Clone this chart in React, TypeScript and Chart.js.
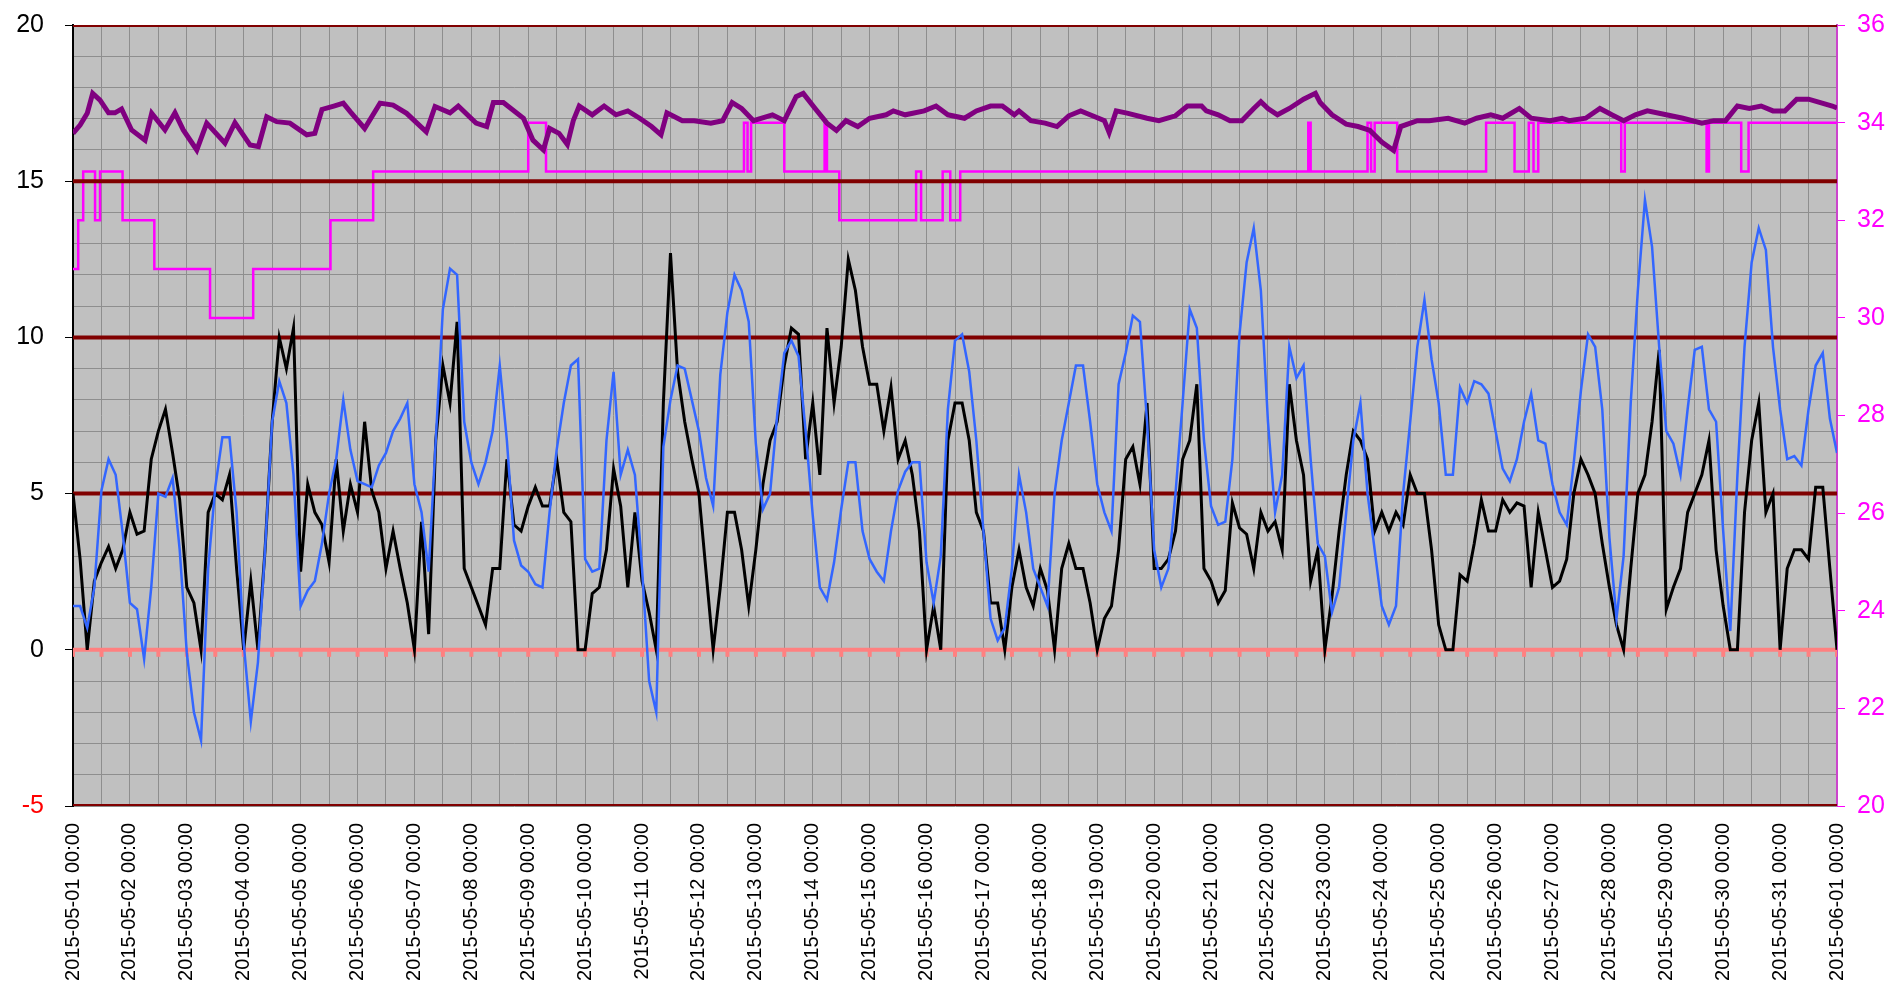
import React, { useEffect, useRef } from 'react';
import { Chart, registerables } from 'chart.js';

Chart.register(...registerables);

// ---------- data ----------
const SAMPLE_STEP_HOURS = 3;
const TOTAL_HOURS = 744;

const dayLabels = [
  '2015-05-01 00:00', '2015-05-02 00:00', '2015-05-03 00:00', '2015-05-04 00:00',
  '2015-05-05 00:00', '2015-05-06 00:00', '2015-05-07 00:00', '2015-05-08 00:00',
  '2015-05-09 00:00', '2015-05-10 00:00', '2015-05-11 00:00', '2015-05-12 00:00',
  '2015-05-13 00:00', '2015-05-14 00:00', '2015-05-15 00:00', '2015-05-16 00:00',
  '2015-05-17 00:00', '2015-05-18 00:00', '2015-05-19 00:00', '2015-05-20 00:00',
  '2015-05-21 00:00', '2015-05-22 00:00', '2015-05-23 00:00', '2015-05-24 00:00',
  '2015-05-25 00:00', '2015-05-26 00:00', '2015-05-27 00:00', '2015-05-28 00:00',
  '2015-05-29 00:00', '2015-05-30 00:00', '2015-05-31 00:00', '2015-06-01 00:00',
];

// black series, one value every 3 hours from 2015-05-01 00:00
const blackValues = [
  5.0, 2.9, 0, 2.2, 2.8, 3.3, 2.6, 3.2, 4.4, 3.7, 3.8, 6.1, 7.0, 7.7, 6.3, 4.8,
  2.0, 1.5, 0, 4.4, 5.0, 4.8, 5.6, 2.6, 0, 2.2, 0, 3.2, 7.3, 10.0, 9.0, 10.3,
  2.5, 5.3, 4.4, 4.0, 2.8, 6.1, 3.8, 5.3, 4.4, 7.3, 5.1, 4.4, 2.6, 3.8, 2.6, 1.5,
  0, 4.1, 0.5, 6.7, 9.1, 7.9, 10.5, 2.6, 2.0, 1.4, 0.8, 2.6, 2.6, 6.1, 4.0, 3.8,
  4.6, 5.2, 4.6, 4.6, 6.1, 4.4, 4.1, 0, 0, 1.8, 2.0, 3.2, 5.8, 4.6, 2.0, 4.4,
  2.2, 1.2, 0, 7.9, 12.7, 8.9, 7.3, 6.1, 5.0, 2.5, 0, 2.0, 4.4, 4.4, 3.2, 1.4,
  3.2, 5.3, 6.7, 7.3, 9.1, 10.3, 10.1, 6.1, 7.9, 5.6, 10.3, 7.9, 9.7, 12.5, 11.5, 9.7,
  8.5, 8.5, 7.0, 8.4, 6.1, 6.7, 5.6, 3.8, 0, 1.4, 0, 6.7, 7.9, 7.9, 6.7, 4.4,
  3.8, 1.5, 1.5, 0, 2.0, 3.2, 2.0, 1.4, 2.6, 1.9, 0, 2.6, 3.4, 2.6, 2.6, 1.5,
  0, 1.0, 1.4, 3.2, 6.1, 6.5, 5.3, 7.9, 2.6, 2.6, 2.9, 3.8, 6.1, 6.7, 8.5, 2.6,
  2.2, 1.5, 1.9, 4.7, 3.9, 3.7, 2.6, 4.4, 3.8, 4.1, 3.2, 8.5, 6.7, 5.6, 2.2, 3.2,
  0, 1.7, 3.8, 5.6, 7.0, 6.7, 6.1, 3.8, 4.4, 3.8, 4.4, 4.0, 5.6, 5.0, 5.0, 3.2,
  0.8, 0, 0, 2.4, 2.2, 3.4, 4.8, 3.8, 3.8, 4.8, 4.4, 4.7, 4.6, 2.0, 4.4, 3.2,
  2.0, 2.2, 2.9, 5.0, 6.1, 5.6, 5.0, 3.4, 2.0, 0.8, 0, 2.6, 5.0, 5.6, 7.3, 9.6,
  1.3, 2.0, 2.6, 4.4, 5.0, 5.6, 6.7, 3.2, 1.4, 0, 0, 4.4, 6.7, 7.9, 4.4, 5.0,
  0, 2.6, 3.2, 3.2, 2.9, 5.2, 5.2, 2.6, 0,
];

// blue series, one value every 3 hours from 2015-05-01 00:00
const blueValues = [
  1.4, 1.4, 0.7, 2.0, 5.1, 6.1, 5.6, 3.7, 1.5, 1.3, -0.3, 2.0, 5.0, 4.9, 5.5, 3.2,
  -0.1, -2.0, -2.9, 2.6, 5.2, 6.8, 6.8, 4.4, 0.2, -2.3, -0.4, 3.2, 7.3, 8.6, 7.9, 5.6,
  1.4, 1.9, 2.2, 3.4, 5.0, 6.1, 8.0, 6.4, 5.4, 5.3, 5.2, 5.9, 6.3, 7.0, 7.4, 7.9,
  5.3, 4.4, 2.5, 6.7, 10.9, 12.2, 12.0, 7.3, 6.0, 5.3, 6.0, 7.0, 9.1, 6.7, 3.5, 2.7,
  2.5, 2.1, 2.0, 4.4, 6.4, 7.9, 9.1, 9.3, 2.9, 2.5, 2.6, 6.7, 8.9, 5.6, 6.4, 5.6,
  2.6, -1.0, -2.0, 6.5, 8.0, 9.1, 9.0, 8.0, 7.0, 5.5, 4.6, 8.8, 10.8, 12.0, 11.5, 10.5,
  6.6, 4.5, 5.0, 7.5, 9.5, 9.9, 9.4, 7.0, 4.3, 2.0, 1.6, 2.8, 4.5, 6.0, 6.0, 3.8,
  2.9, 2.5, 2.2, 3.8, 5.1, 5.7, 6.0, 6.0, 2.8, 1.5, 3.0, 7.7, 9.9, 10.1, 8.9, 6.7,
  3.8, 1.0, 0.3, 0.7, 2.6, 5.6, 4.4, 2.6, 2.0, 1.4, 5.0, 6.7, 7.9, 9.1, 9.1, 7.3,
  5.3, 4.4, 3.8, 8.5, 9.5, 10.7, 10.5, 7.3, 3.2, 2.0, 2.6, 5.0, 7.9, 10.9, 10.3, 6.7,
  4.6, 4.0, 4.1, 6.1, 10.1, 12.4, 13.5, 11.5, 7.3, 4.4, 5.6, 9.7, 8.7, 9.1, 6.1, 3.4,
  3.0, 1.2, 2.0, 4.4, 6.7, 7.9, 5.0, 3.2, 1.4, 0.8, 1.4, 5.0, 7.3, 9.7, 11.2, 9.3,
  7.9, 5.6, 5.6, 8.4, 7.9, 8.6, 8.5, 8.2, 7.0, 5.8, 5.4, 6.1, 7.3, 8.2, 6.7, 6.6,
  5.3, 4.4, 4.0, 6.0, 8.3, 10.1, 9.7, 7.7, 3.6, 1.0, 3.0, 7.9, 11.5, 14.4, 12.9, 9.7,
  7.0, 6.6, 5.6, 7.7, 9.6, 9.7, 7.7, 7.3, 3.8, 0.6, 5.6, 9.7, 12.4, 13.5, 12.8, 9.7,
  7.7, 6.1, 6.2, 5.9, 7.7, 9.1, 9.5, 7.4, 6.3,
];

// purple series (right axis)
const purpleHours = [
  0, 3, 6, 8.3, 11.4, 15, 17.7, 20.5, 24.7, 30.4, 33.2, 38.8, 43, 46.5, 52.2, 56.4,
  64.1, 68.3, 74.7, 78.2, 81.7, 85.9, 91.5, 98.6, 102, 105, 110, 114, 117, 123, 129.5, 135,
  140.7, 149, 152.7, 159, 162.5, 170, 174.5, 177.3, 181.5, 190, 194, 198.4, 201, 205,
  208.5, 211, 213.5, 219, 224, 229, 234, 239, 244, 248, 250.5, 257, 262, 269, 274, 278,
  282, 287, 295, 300, 305, 308, 313, 318, 322, 326, 331, 336, 343, 346, 351, 359,
  364, 369, 376, 381, 387, 392, 397, 399, 404, 410, 415, 420, 425, 430, 435, 437,
  440, 445, 453, 458, 465, 470, 476, 478, 483, 488, 493, 498, 501, 504, 508, 513,
  519, 524, 526, 531, 537, 542, 547, 552, 557, 560, 567, 572, 580, 587, 592, 598,
  603, 610, 615, 623, 628, 631, 638, 644, 649, 654, 659, 664, 672, 679, 687, 692,
  697, 702, 707, 712, 717, 722, 727, 732, 737, 742, 744,
];
const purpleValues = [
  33.78, 33.95, 34.19, 34.6, 34.46, 34.2, 34.2, 34.28, 33.85, 33.64, 34.19, 33.85, 34.2, 33.85, 33.44, 33.99,
  33.58, 34.0, 33.54, 33.51, 34.12, 34.02, 33.99, 33.75, 33.78, 34.27, 34.34, 34.4, 34.22, 33.88, 34.4, 34.36,
  34.19, 33.81, 34.33, 34.2, 34.34, 33.99, 33.92, 34.41, 34.41, 34.09, 33.64, 33.44, 33.88, 33.78,
  33.55, 34.04, 34.34, 34.16, 34.34, 34.16, 34.24, 34.09, 33.92, 33.75, 34.2, 34.04, 34.04, 33.99, 34.04, 34.41,
  34.29, 34.04, 34.16, 34.04, 34.53, 34.6, 34.29, 33.99, 33.84, 34.04, 33.92, 34.09, 34.16, 34.24, 34.16, 34.24,
  34.34, 34.16, 34.09, 34.24, 34.34, 34.34, 34.16, 34.24, 34.04, 33.99, 33.92, 34.14, 34.24, 34.14, 34.04, 33.8,
  34.24, 34.19, 34.09, 34.04, 34.14, 34.34, 34.34, 34.24, 34.16, 34.04, 34.04, 34.29, 34.43, 34.29, 34.16, 34.29,
  34.48, 34.6, 34.41, 34.16, 33.97, 33.92, 33.84, 33.6, 33.43, 33.92, 34.04, 34.04, 34.09, 33.99, 34.09, 34.16,
  34.09, 34.29, 34.09, 34.04, 34.09, 34.04, 34.09, 34.29, 34.16, 34.04, 34.16, 34.24, 34.16, 34.09, 33.99, 34.04,
  34.04, 34.34, 34.29, 34.34, 34.24, 34.24, 34.48, 34.48, 34.41, 34.34, 34.3,
];

// magenta step series (right axis): level starting at each hour
const magentaHours = [
  0, 2.2, 4.3, 9.3, 11.4, 20.9, 34.3, 57.8, 76, 108.6, 126.6, 192, 199.5, 283, 284.5, 286,
  300, 317, 318, 323.2, 355.6, 357.7, 366.8, 370, 374.2, 376, 521, 522, 546, 547.5, 549, 558.5,
  596, 608, 614, 616, 618, 653, 654.5, 689, 690, 703.6, 706.7, 744,
];
const magentaValues = [
  31, 32, 33, 32, 33, 32, 31, 30, 31, 32, 33, 34, 33, 34, 33, 34,
  33, 34, 33, 32, 33, 32, 33, 32, 33, 33, 34, 33, 34, 33, 34, 33,
  34, 33, 34, 33, 34, 33, 34, 33, 34, 33, 34, 34,
];

const limitLevels = [-5, 5, 10, 15, 20];
const zeroMarkerHours = Array.from({ length: TOTAL_HOURS / 12 + 1 }, (_, i) => i * 12);

const FONT = '"Liberation Sans", Arial, sans-serif';

export default function App() {
  const canvasRef = useRef<HTMLCanvasElement | null>(null);

  useEffect(() => {
    const canvas = canvasRef.current;
    if (!canvas) return;

    const marker = document.createElement('canvas');
    marker.width = 6;
    marker.height = 16;
    const mctx = marker.getContext('2d');
    if (mctx) {
      mctx.fillStyle = '#FF8080';
      mctx.fillRect(1, 8, 4, 7);
    }

    const toXY = (vals: number[]) => vals.map((v, i) => ({ x: i * SAMPLE_STEP_HOURS, y: v }));

    const limitDatasets = limitLevels.map((lv) => ({
      label: 'limit ' + lv,
      data: [{ x: 0, y: lv }, { x: TOTAL_HOURS, y: lv }],
      borderColor: '#800000',
      borderWidth: 4,
      pointRadius: 0,
      yAxisID: 'y',
      clip: 0,
    }));

    const bgPlugin = {
      id: 'plotBg',
      beforeDraw(chart: any) {
        const { ctx, chartArea: a } = chart;
        ctx.save();
        ctx.fillStyle = '#C0C0C0';
        ctx.fillRect(a.left, a.top, a.right - a.left, a.bottom - a.top);
        ctx.restore();
      },
    };

    const fitVertical = (w: number) => (s: any) => {
      s.width = w;
      s.paddingTop = 0;
      s.paddingBottom = 0;
    };

    const chart = new Chart(canvas, {
      type: 'line',
      data: {
        datasets: [
          {
            label: 'blue',
            data: toXY(blueValues),
            borderColor: '#3366FF',
            borderWidth: 2.5,
            pointRadius: 0,
            yAxisID: 'y',
          },
          {
            label: 'black',
            data: toXY(blackValues),
            borderColor: '#000000',
            borderWidth: 3,
            pointRadius: 0,
            yAxisID: 'y',
          },
          {
            label: 'zero',
            data: zeroMarkerHours.map((h) => ({ x: h, y: 0 })),
            borderColor: '#FF8080',
            borderWidth: 4,
            pointRadius: 3,
            pointStyle: marker as any,
            yAxisID: 'y',
          },
          ...limitDatasets,
          {
            label: 'purple',
            data: purpleHours.map((h, i) => ({ x: h, y: purpleValues[i] })),
            borderColor: '#800080',
            borderWidth: 5,
            pointRadius: 0,
            yAxisID: 'y2',
          },
          {
            label: 'magenta',
            data: magentaHours.map((h, i) => ({ x: h, y: magentaValues[i] })),
            borderColor: '#FF00FF',
            borderWidth: 2.5,
            pointRadius: 0,
            stepped: 'before',
            yAxisID: 'y2',
          },
        ] as any,
      },
      options: {
        animation: false,
        responsive: false,
        maintainAspectRatio: false,
        layout: { padding: { top: 25, left: 0, right: 0, bottom: 0 } },
        plugins: {
          legend: { display: false },
          tooltip: { enabled: false },
        },
        elements: { line: { tension: 0 } },
        scales: {
          x: {
            type: 'linear',
            min: 0,
            max: TOTAL_HOURS,
            afterFit: (s: any) => {
              s.height = 183;
              s.paddingLeft = 0;
              s.paddingRight = 0;
            },
            ticks: {
              stepSize: 12,
              autoSkip: false,
              maxRotation: 90,
              minRotation: 90,
              padding: 17,
              color: '#000000',
              font: { family: FONT, size: 20 },
              callback: (v: any) => (Number(v) % 24 === 0 ? dayLabels[Number(v) / 24] : ''),
            },
            grid: { color: '#8E8E8E', lineWidth: 1, drawTicks: false },
            border: { display: false },
          },
          y: {
            type: 'linear',
            position: 'left',
            min: -5,
            max: 20,
            afterFit: fitVertical(73),
            ticks: {
              stepSize: 1,
              autoSkip: false,
              padding: 21,
              font: { family: FONT, size: 25 },
              color: (c: any) => (c.tick && c.tick.value < 0 ? '#FF0000' : '#000000'),
              callback: (v: any) => (Number(v) % 5 === 0 ? String(v) : ''),
            },
            grid: {
              color: '#8E8E8E',
              lineWidth: 1,
              tickLength: 8,
              tickColor: (c: any) => (c.tick && c.tick.value % 5 === 0 ? '#000000' : 'rgba(0,0,0,0)'),
            },
            border: { display: true, color: '#000000', width: 2 },
          },
          y2: {
            type: 'linear',
            position: 'right',
            min: 20,
            max: 36,
            afterFit: fitVertical(55),
            ticks: {
              stepSize: 2,
              padding: 12,
              color: '#FF00FF',
              font: { family: FONT, size: 25 },
            },
            grid: { drawOnChartArea: false, tickLength: 8, tickColor: '#FF00FF' },
            border: { display: true, color: '#CC44CC', width: 2 },
          },
        },
      } as any,
      plugins: [bgPlugin],
    });

    return () => chart.destroy();
  }, []);

  return (
    <div style={{ position: 'fixed', left: 0, top: 0, width: 1892, height: 989, background: '#FFFFFF' }}>
      <canvas ref={canvasRef} width={1892} height={989} style={{ width: 1892, height: 989, display: 'block' }} />
    </div>
  );
}
